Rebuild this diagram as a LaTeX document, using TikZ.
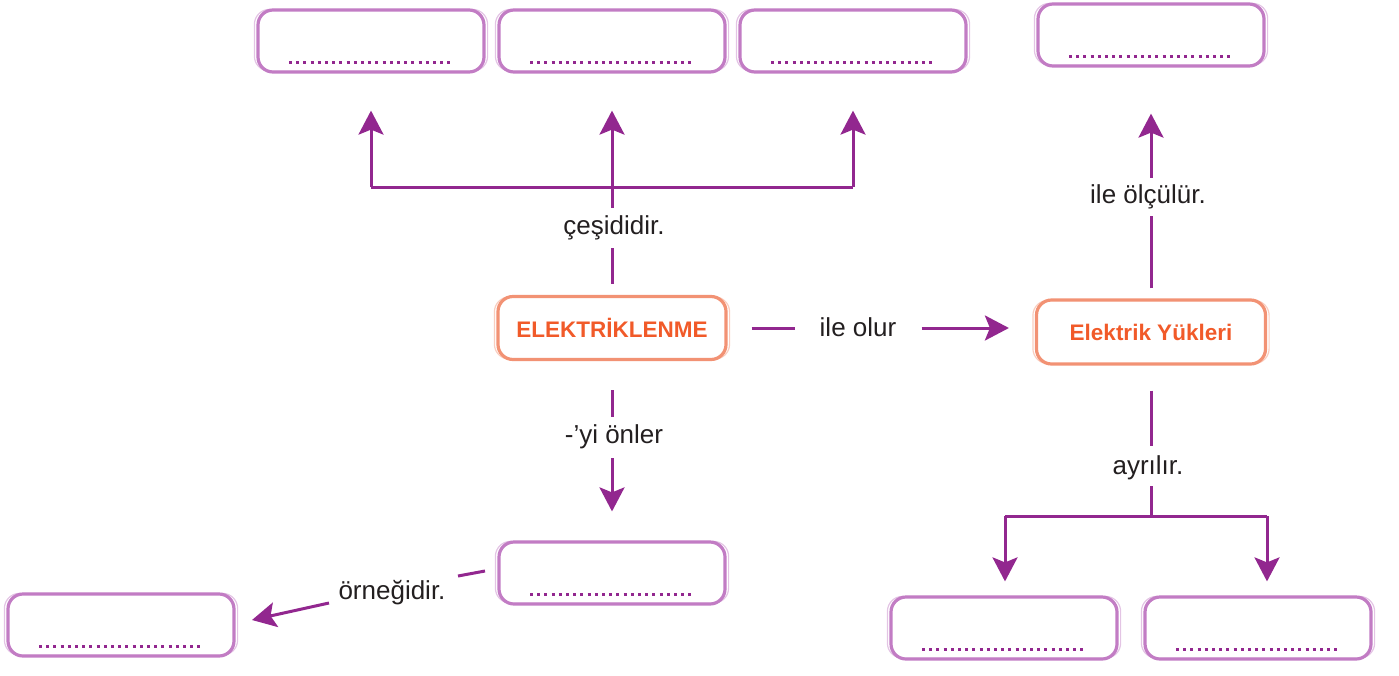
\documentclass[tikz,border=0pt]{standalone}
\usepackage{fontspec}
\setmainfont{Liberation Sans}
\usetikzlibrary{arrows.meta}
\definecolor{lnpurple}{HTML}{92278F}
\definecolor{bxpurple}{HTML}{C27CC4}
\definecolor{bxorange}{HTML}{F29274}
\definecolor{txorange}{HTML}{F15A29}
\definecolor{txgray}{HTML}{231F20}
\tikzset{
  blankbox/.style={draw=bxpurple, line width=3.2pt, rounded corners=15pt, minimum width=226pt, minimum height=62pt, inner sep=0pt},
  mainbox/.style={draw=bxorange, line width=3.2pt, rounded corners=15pt, minimum width=228pt, minimum height=63pt, inner sep=0pt, text=txorange, font=\fontsize{22.5}{26}\selectfont\bfseries},
  sketch/.style={line width=1.2pt, rounded corners=15pt, opacity=0.45},
  dots/.style={draw=lnpurple, line width=3pt, dash pattern=on 3pt off 4.2pt},
  lbl/.style={text=txgray, font=\fontsize{26}{30}\selectfont, inner sep=0pt},
  conn/.style={draw=lnpurple, line width=3pt},
  arr/.style={conn, -{Stealth[length=24pt, width=25pt, inset=5pt]}}
}
\newcommand{\blank}[2]{%
  \node[blankbox] (#1) at (#2) {};
  \draw[sketch, bxpurple] ([xshift=-2pt,yshift=2.5pt]#1.south west) rectangle ([xshift=2pt,yshift=-1pt]#1.north east);
  \draw[dots] ([xshift=-82pt,yshift=11pt]#1.south) -- ([xshift=82pt,yshift=11pt]#1.south);
}
\begin{document}
\begin{tikzpicture}[x=1pt,y=-1pt]
\useasboundingbox (0,0) rectangle (1399,675);
% blank boxes
\blank{t1}{371,41}
\blank{t2}{612,41}
\blank{t3}{853,41}
\blank{t4}{1151,35}
\blank{bm}{612,573}
\blank{bl}{121,625}
\blank{br1}{1004,628}
\blank{br2}{1258,628}
% main boxes
\node[mainbox] (elek) at (612,328) {ELEKTRİKLENME};
\draw[sketch, bxorange] ([xshift=-2pt,yshift=2pt]elek.south west) rectangle ([xshift=2pt,yshift=-2pt]elek.north east);
\node[mainbox, minimum width=229pt, minimum height=64pt] (yuk) at (1151,332) {Elektrik Yükleri};
\draw[sketch, bxorange] ([xshift=-2pt,yshift=2pt]yuk.south west) rectangle ([xshift=2pt,yshift=-2pt]yuk.north east);
% labels
\node[lbl] (l1) at (614,228) {çeşididir.};
\node[lbl] (l2) at (858,327) {ile olur};
\node[lbl] (l3) at (614,437) {-’yi önler};
\node[lbl] (l4) at (1148,197) {ile ölçülür.};
\node[lbl] (l5) at (1148,468) {ayrılır.};
\node[lbl] (l6) at (392,593) {örneğidir.};
% junctions
\coordinate (j1) at (612,187);
\coordinate (jL) at (371,187);
\coordinate (jR) at (853,187);
\coordinate (j5) at (1151,516);
\coordinate (jL5) at (1005,516);
\coordinate (jR5) at (1267,516);
% çeşididir
\draw[conn, shorten <=11pt, shorten >=8pt] (elek.north) -- (elek.north |- l1.south);
\draw[conn, shorten <=8pt] (elek.north |- l1.north) -- (j1);
\draw[conn] (jL) -- (jR);
\draw[arr, shorten >=37pt] (jL) -- (jL |- t1.south);
\draw[arr, shorten >=37pt] (j1) -- (j1 |- t2.south);
\draw[arr, shorten >=37pt] (jR) -- (jR |- t3.south);
% ile olur
\draw[conn, shorten <=24pt, shorten >=25pt] (elek.east) -- (elek.east -| l2.west);
\draw[arr, shorten <=25pt, shorten >=26pt] (elek.east -| l2.east) -- (elek.east -| yuk.west);
% -'yi önler
\draw[conn, shorten <=29pt, shorten >=8pt] (elek.south) -- (elek.south |- l3.north);
\draw[arr, shorten <=9pt, shorten >=29pt] (elek.south |- l3.south) -- (bm.north);
% ile ölçülür
\draw[conn, shorten <=10pt, shorten >=7pt] (yuk.north) -- (yuk.north |- l4.south);
\draw[arr, shorten <=7pt, shorten >=46pt] (yuk.north |- l4.north) -- (yuk.north |- t4.south);
% ayrılır
\draw[conn, shorten <=25pt, shorten >=10pt] (yuk.south) -- (yuk.south |- l5.north);
\draw[conn, shorten <=6pt] (yuk.south |- l5.south) -- (j5);
\draw[conn] (jL5) -- (jR5);
\draw[arr, shorten >=14pt] (jL5) -- (jL5 |- br1.north);
\draw[arr, shorten >=14pt] (jR5) -- (jR5 |- br2.north);
% örneğidir
\coordinate (o1) at (485,571);
\coordinate (o2) at (458,576);
\coordinate (o3) at (329,603);
\coordinate (o4) at (252,620);
\draw[conn] (o1) -- (o2);
\draw[arr] (o3) -- (o4);
\end{tikzpicture}
\end{document}
